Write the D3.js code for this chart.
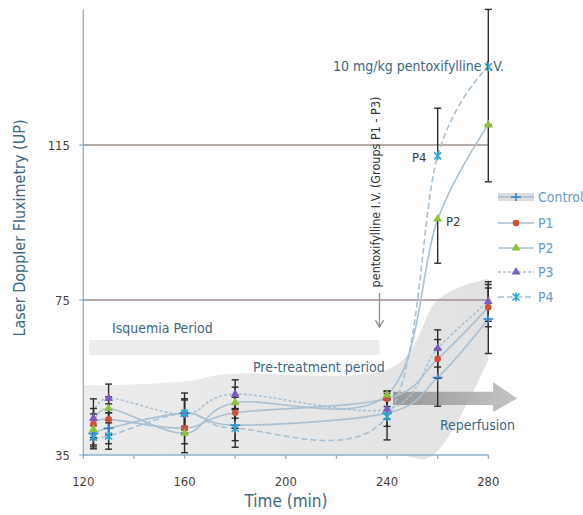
<!DOCTYPE html>
<html><head><meta charset="utf-8">
<script src="https://cdn.jsdelivr.net/npm/d3@7"></script>
<style>body{margin:0;background:#fff}svg{display:block}text{font-family:"DejaVu Sans Condensed","DejaVu Sans",sans-serif}</style>
</head><body>
<svg id="c" width="583" height="515"></svg>
<script>
// ---- data ----
const times = [124, 130, 160, 180, 240, 260, 280];
const controlVals = [40.6, 41.9, 45.8, 42.7, 45.8, 55.0, 70.1];
const p1Vals      = [43.0, 44.2, 41.9, 45.9, 49.5, 59.8, 73.1];
const p2Vals      = [41.6, 47.0, 40.6, 48.5, 50.5, 95.9, 120.2];
const p3Vals      = [44.5, 49.6, 45.5, 50.7, 46.8, 62.5, 74.6];
const p4Vals      = [39.6, 39.9, 45.8, 41.9, 44.9, 112.2, 135.2];
const controlErrUp = [3.5, 4.0, 3.4, 4.0, 3.4, 7.4, 8.9];
const controlErrDn = [3.5, 4.0, 3.4, 4.0, 3.4, 7.4, 8.9];
const p1ErrUp = [4.0, 4.0, 4.0, 4.0, 2.0, 5.0, 5.0];
const p1ErrDn = [4.0, 4.0, 4.0, 4.0, 2.0, 5.0, 5.0];
const p2ErrUp = [4.0, 3.0, 5.0, 4.0, 1.0, 0.0, 0.0];
const p2ErrDn = [4.0, 3.0, 5.0, 4.0, 1.0, 11.4, 14.7];
const p3ErrUp = [5.0, 3.7, 4.0, 3.7, 2.5, 4.8, 5.1];
const p3ErrDn = [5.0, 3.7, 4.0, 3.7, 2.5, 4.8, 5.1];
const p4ErrUp = [3.0, 3.4, 5.2, 4.9, 6.0, 12.3, 14.8];
const p4ErrDn = [3.0, 3.4, 5.2, 4.9, 6.0, 0.0, 15.0];
const bandTimes = [120, 124, 130, 160, 180, 240, 260, 280];
const bandHi = [53, 53, 53, 54, 56, 57, 75, 80.5];
const bandLo = [35, 35, 35, 35, 35, 35, 36, 59.5];
const xTickLabels = [120, 160, 200, 240, 280];
const xMinorTicks = [120, 140, 160, 180, 200, 220, 240, 260, 280];
const yTickLabels = [35, 75, 115];
const gridValues = [75, 115];
const seriesNames = ["Control", "P1", "P2", "P3", "P4"];

// ---- layout ----
const svg = d3.select("#c");
const x = d3.scaleLinear().domain([120, 280]).range([83.3, 488.3]);
const y = d3.scaleLinear().domain([35, 150]).range([455, 9.4]);

const lineCol = "#a9c1d3";
const series = [
  {name: "Control", vals: controlVals, up: controlErrUp, dn: controlErrDn, color: "#3b82c4", marker: "plus", dash: null},
  {name: "P1", vals: p1Vals, up: p1ErrUp, dn: p1ErrDn, color: "#cc5138", marker: "circle", dash: null},
  {name: "P2", vals: p2Vals, up: p2ErrUp, dn: p2ErrDn, color: "#8cc23a", marker: "triangle", dash: null},
  {name: "P3", vals: p3Vals, up: p3ErrUp, dn: p3ErrDn, color: "#7a5cc2", marker: "triangle", dash: "3,2"},
  {name: "P4", vals: p4Vals, up: p4ErrUp, dn: p4ErrDn, color: "#2aa6d8", marker: "star", dash: "6,3"}
];

const defs = svg.append("defs");
const g1 = defs.append("linearGradient").attr("id", "bandG").attr("x1", 0).attr("x2", 1).attr("y1", 0).attr("y2", 0);
g1.append("stop").attr("offset", "0%").attr("stop-color", "#ececec");
g1.append("stop").attr("offset", "100%").attr("stop-color", "#e2e2e2");
const g2 = defs.append("linearGradient").attr("id", "arrG").attr("x1", 0).attr("x2", 1).attr("y1", 0).attr("y2", 0);
g2.append("stop").attr("offset", "0%").attr("stop-color", "#8f8f8f");
g2.append("stop").attr("offset", "100%").attr("stop-color", "#bdbdbd");

// control band
const band = bandTimes.map((t, i) => ({t, hi: bandHi[i], lo: bandLo[i]}));
svg.append("path").datum(band)
  .attr("d", d3.area().x(d => x(d.t)).y0(d => y(d.lo)).y1(d => y(d.hi)).curve(d3.curveCardinal.tension(0)))
  .attr("fill", "url(#bandG)");

// isquemia band
svg.append("rect").attr("x", x(122.3)).attr("y", y(64.7)).attr("width", x(237) - x(122.3)).attr("height", y(60.8) - y(64.7))
  .attr("fill", "#ececec");

// reperfusion arrow
const arrowPts = [[242.4, 51.3], [281.9, 51.3], [281.9, 53.8], [291.4, 49.6], [281.9, 46.1], [281.9, 47.9], [242.4, 47.9]];
svg.append("polygon").attr("points", arrowPts.map(p => [x(p[0]), y(p[1])].join(",")).join(" "))
  .attr("fill", "url(#arrG)").attr("opacity", 0.9);

// gridlines
svg.selectAll(".grid").data(gridValues).join("line")
  .attr("x1", x(120)).attr("x2", x(280)).attr("y1", d => y(d)).attr("y2", d => y(d))
  .attr("stroke", "#9c8f8a").attr("stroke-width", 1.3);

// axes
const axCol = "#8fb0c8";
svg.append("line").attr("x1", x(120)).attr("x2", x(120)).attr("y1", y(150)).attr("y2", y(35)).attr("stroke", axCol).attr("stroke-width", 1.3);
svg.append("line").attr("x1", x(120)).attr("x2", x(280)).attr("y1", y(35)).attr("y2", y(35)).attr("stroke", axCol).attr("stroke-width", 1.3);
svg.selectAll(".xt").data(xMinorTicks).join("line")
  .attr("x1", d => x(d)).attr("x2", d => x(d)).attr("y1", y(35)).attr("y2", y(35) + 4)
  .attr("stroke", axCol).attr("stroke-width", 1.3);
svg.selectAll(".yt").data(yTickLabels).join("line")
  .attr("x1", x(120) - 4).attr("x2", x(120) + 4).attr("y1", d => y(d)).attr("y2", d => y(d))
  .attr("stroke", axCol).attr("stroke-width", 1.3);
svg.selectAll(".xl").data(xTickLabels).join("text")
  .attr("x", d => x(d)).attr("y", 486).attr("text-anchor", "middle")
  .attr("font-size", 13).attr("fill", "#4e3f3a").text(d => d);
svg.selectAll(".yl").data(yTickLabels).join("text")
  .attr("x", 70).attr("y", d => y(d) + 4.5).attr("text-anchor", "end")
  .attr("font-size", 13).attr("fill", "#4e3f3a").text(d => d);

svg.append("text").attr("x", 286).attr("y", 507).attr("text-anchor", "middle")
  .attr("font-size", 17).attr("fill", "#3f6882").text("Time (min)");
svg.append("text").attr("transform", "translate(25,228) rotate(-90)").attr("text-anchor", "middle")
  .attr("font-size", 16).attr("fill", "#3f6882").text("Laser Doppler Fluximetry (UP)");

// lines
const lineGen = d3.line().x(d => x(d.t)).y(d => y(d.v)).curve(d3.curveCardinal.tension(0));
series.forEach(s => {
  s.pts = times.map((t, i) => ({t, v: s.vals[i], up: s.up[i], dn: s.dn[i]}));
  svg.append("path").datum(s.pts).attr("d", lineGen)
    .attr("fill", "none").attr("stroke", lineCol).attr("stroke-width", 1.6)
    .attr("stroke-dasharray", s.dash);
});

// error bars
series.forEach(s => {
  const eg = svg.append("g").attr("stroke", "#2b2b2b").attr("stroke-width", 1.4);
  s.pts.forEach(p => {
    if (p.up > 0) {
      eg.append("line").attr("x1", x(p.t)).attr("x2", x(p.t)).attr("y1", y(p.v)).attr("y2", y(p.v + p.up));
      eg.append("line").attr("x1", x(p.t) - 3.5).attr("x2", x(p.t) + 3.5).attr("y1", y(p.v + p.up)).attr("y2", y(p.v + p.up));
    }
    if (p.dn > 0) {
      eg.append("line").attr("x1", x(p.t)).attr("x2", x(p.t)).attr("y1", y(p.v)).attr("y2", y(p.v - p.dn));
      eg.append("line").attr("x1", x(p.t) - 3.5).attr("x2", x(p.t) + 3.5).attr("y1", y(p.v - p.dn)).attr("y2", y(p.v - p.dn));
    }
  });
});

// markers
function drawMarker(g, type, cx, cy, color) {
  if (type === "circle") g.append("circle").attr("cx", cx).attr("cy", cy).attr("r", 3.3).attr("fill", color);
  else if (type === "triangle") g.append("path").attr("d", d3.symbol(d3.symbolTriangle, 34)()).attr("transform", `translate(${cx},${cy})`).attr("fill", color);
  else if (type === "plus") {
    g.append("line").attr("x1", cx - 5).attr("x2", cx + 5).attr("y1", cy).attr("y2", cy).attr("stroke", color).attr("stroke-width", 1.6);
    g.append("line").attr("x1", cx).attr("x2", cx).attr("y1", cy - 4).attr("y2", cy + 4).attr("stroke", color).attr("stroke-width", 1.6);
  } else if (type === "star") {
    g.append("path").attr("d", `M${cx-3.5},${cy-3.5}L${cx+3.5},${cy+3.5}M${cx+3.5},${cy-3.5}L${cx-3.5},${cy+3.5}M${cx},${cy-4.5}L${cx},${cy+4.5}`)
      .attr("stroke", color).attr("stroke-width", 1.6).attr("fill", "none");
  }
}
series.forEach(s => {
  const mg = svg.append("g");
  s.pts.forEach(p => drawMarker(mg, s.marker, x(p.t), y(p.v), s.color));
});

// annotations
const annCol = "#3f6882";
svg.append("text").attr("x", 112).attr("y", 333).attr("font-size", 14).attr("fill", annCol).text("Isquemia Period");
svg.append("text").attr("x", 253).attr("y", 372).attr("font-size", 14).attr("fill", annCol).text("Pre-treatment period");
svg.append("text").attr("x", 440).attr("y", 430).attr("font-size", 14).attr("fill", annCol).text("Reperfusion");
svg.append("text").attr("x", 333).attr("y", 71).attr("font-size", 14).attr("fill", annCol).text("10 mg/kg pentoxifylline I.V.");
svg.append("text").attr("transform", "translate(380,192) rotate(-90)").attr("text-anchor", "middle")
  .attr("font-size", 12.5).attr("fill", "#333").text("pentoxifylline I.V. (Groups P1 - P3)");
svg.append("text").attr("x", 412).attr("y", 162).attr("font-size", 13).attr("fill", "#3d3d3d").text("P4");
svg.append("text").attr("x", 446).attr("y", 226).attr("font-size", 13).attr("fill", "#3d3d3d").text("P2");
// down arrow
svg.append("line").attr("x1", x(237)).attr("x2", x(237)).attr("y1", y(76.8)).attr("y2", y(68.3)).attr("stroke", "#8a8f95").attr("stroke-width", 1.3);
svg.append("path").attr("d", `M${x(237)-4},${y(69.8)}L${x(237)},${y(68)}L${x(237)+4},${y(69.8)}`).attr("stroke", "#8a8f95").attr("stroke-width", 1.3).attr("fill", "none");

// legend
const legY = [197, 223, 248, 272, 297];
const lg = svg.append("g");
series.forEach((s, i) => {
  const yy = legY[i];
  if (s.name === "Control") lg.append("rect").attr("x", 498).attr("y", yy - 4).attr("width", 36).attr("height", 8).attr("fill", "#dedede");
  lg.append("line").attr("x1", 498).attr("x2", 534).attr("y1", yy).attr("y2", yy)
    .attr("stroke", lineCol).attr("stroke-width", 1.6).attr("stroke-dasharray", s.dash);
  drawMarker(lg, s.marker, 516, yy, s.color);
  lg.append("text").attr("x", 538).attr("y", yy + 5).attr("font-size", 14).attr("fill", "#6a9bc2").text(seriesNames[i]);
});
</script>
</body></html>
